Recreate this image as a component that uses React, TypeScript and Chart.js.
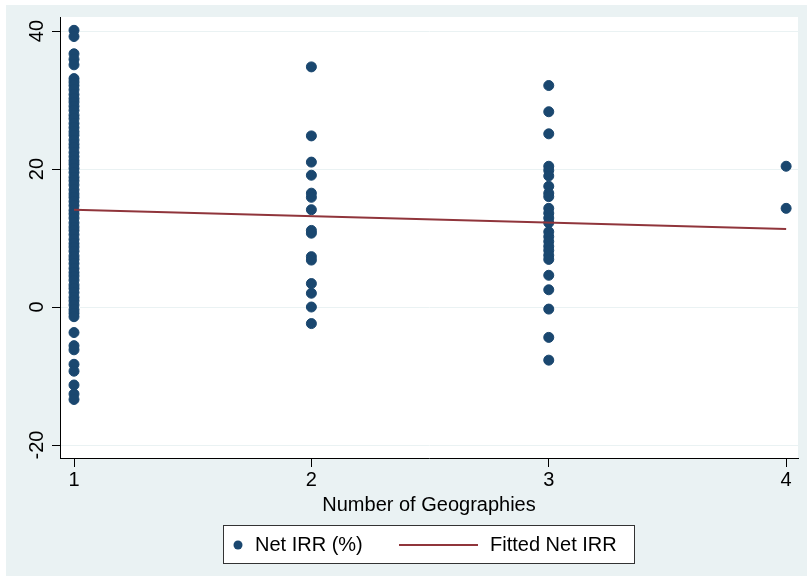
import React, { useEffect, useRef } from "react";
import { Chart, registerables } from "chart.js";

Chart.register(...registerables);

// Number of geographies for each column of points
const geoOne = 1;
const geoTwo = 2;
const geoThree = 3;
const geoFour = 4;

const irrGeo1: number[] = [
  40.1, 39.2, 36.7, 35.9, 35.1,
  33.1, 32.6, 32.1, 31.5, 30.8, 30.2, 29.7, 29.1, 28.5, 27.8, 27.3, 26.6, 26.0,
  25.4, 24.9, 24.2, 23.6, 23.1, 22.4, 21.8, 21.2, 20.7, 20.1, 19.5, 18.8, 18.3,
  17.7, 17.0, 16.4, 15.9, 15.3, 14.7, 14.0, 13.5, 12.9, 12.2, 11.6, 11.1, 10.5,
  9.8, 9.2, 8.7, 8.1, 7.4, 6.9, 6.3, 5.6, 5.0, 4.5, 3.9, 3.2, 2.7, 2.1, 1.4,
  0.9, 0.3, -0.4, -0.9, -1.4,
  -3.7, -5.6, -6.2, -8.3, -9.3, -11.3, -12.6, -13.4,
];
const irrGeo2: number[] = [
  34.8, 24.8, 21.0, 19.1, 16.5, 15.9, 14.1, 11.1, 10.7, 7.3, 6.8, 3.4, 2.0, 0.0, -2.4,
];
const irrGeo3: number[] = [
  32.1, 28.3, 25.1, 20.4, 19.8, 19.0, 17.5, 16.5, 16.0, 14.3, 13.6, 12.9, 12.2,
  10.9, 10.2, 9.5, 8.8, 8.2, 7.5, 6.9, 4.6, 2.5, -0.3, -4.4, -7.7,
];
const irrGeo4: number[] = [20.4, 14.3];

// Fitted line end points
const fitX: number[] = [1, 4];
const fitY: number[] = [14.1, 11.3];

// Axis ticks
const xTicks: number[] = [1, 2, 3, 4];
const yTicks: number[] = [-20, 0, 20, 40];

const xTitle = "Number of Geographies";
const legendScatter = "Net IRR (%)";
const legendFit = "Fitted Net IRR";

const NAVY = "#1A476F";
const MAROON = "#90353B";
const BG = "#EAF2F3";
const FONT = "'Liberation Sans', Arial, sans-serif";

export default function App() {
  const ref = useRef<HTMLCanvasElement | null>(null);

  useEffect(() => {
    if (!ref.current) return;
    const pts = [
      ...irrGeo1.map((y) => ({ x: geoOne, y })),
      ...irrGeo2.map((y) => ({ x: geoTwo, y })),
      ...irrGeo3.map((y) => ({ x: geoThree, y })),
      ...irrGeo4.map((y) => ({ x: geoFour, y })),
    ];
    const fit = fitX.map((x, i) => ({ x, y: fitY[i] }));

    const bgPlugin = {
      id: "stataBg",
      beforeDraw(chart: any) {
        const { ctx, chartArea } = chart;
        ctx.save();
        ctx.fillStyle = "#ffffff";
        ctx.fillRect(0, 0, chart.width, chart.height);
        ctx.fillStyle = BG;
        ctx.fillRect(6, 5, chart.width - 6, chart.height - 5);
        ctx.fillStyle = "#ffffff";
        ctx.fillRect(
          chartArea.left,
          chartArea.top,
          chartArea.right - chartArea.left,
          chartArea.bottom - chartArea.top
        );
        ctx.restore();
      },
      afterDraw(chart: any) {
        const { ctx } = chart;
        const ys = chart.scales.y;
        ctx.save();
        ctx.fillStyle = "#000";
        ctx.font = `20px ${FONT}`;
        ctx.textAlign = "center";
        ctx.textBaseline = "middle";
        for (const v of yTicks) {
          const py = ys.getPixelForValue(v);
          ctx.save();
          ctx.translate(37, py);
          ctx.rotate(-Math.PI / 2);
          ctx.fillText(String(v), 0, 0);
          ctx.restore();
        }
        // legend
        const lx = 223.5, ly = 525.5, lw = 411, lh = 38;
        ctx.fillStyle = "#ffffff";
        ctx.fillRect(lx, ly, lw, lh);
        ctx.strokeStyle = "#333";
        ctx.lineWidth = 1;
        ctx.strokeRect(lx, ly, lw, lh);
        const cy = ly + lh / 2 + 0.5;
        ctx.fillStyle = NAVY;
        ctx.beginPath();
        ctx.arc(238, cy, 4.5, 0, Math.PI * 2);
        ctx.fill();
        ctx.strokeStyle = MAROON;
        ctx.lineWidth = 2;
        ctx.beginPath();
        ctx.moveTo(399, cy);
        ctx.lineTo(478, cy);
        ctx.stroke();
        ctx.fillStyle = "#000";
        ctx.textAlign = "left";
        ctx.fillText(legendScatter, 255, cy);
        ctx.fillText(legendFit, 490, cy);
        ctx.restore();
      },
    };

    const chart = new Chart(ref.current, {
      type: "scatter",
      data: {
        datasets: [
          {
            type: "line",
            label: legendFit,
            data: fit,
            borderColor: MAROON,
            borderWidth: 2,
            pointRadius: 0,
            fill: false,
          } as any,
          {
            type: "scatter",
            label: legendScatter,
            data: pts,
            backgroundColor: NAVY,
            borderColor: NAVY,
            borderWidth: 1,
            pointRadius: 5,
          },
        ],
      },
      options: {
        responsive: false,
        animation: false,
        devicePixelRatio: 1,
        layout: { padding: { left: 0, top: 17, right: 9, bottom: 59 } },
        plugins: {
          legend: { display: false },
          tooltip: { enabled: false },
        },
        scales: {
          x: {
            type: "linear",
            min: 0.941,
            max: 4.05,
            afterBuildTicks: (s: any) => {
              s.ticks = xTicks.map((v) => ({ value: v }));
            },
            grid: {
              display: true,
              drawOnChartArea: false,
              drawTicks: true,
              tickLength: 9,
              tickColor: "#000",
            },
            border: { display: true, color: "#000", width: 1 },
            ticks: {
              color: "#000",
              font: { family: FONT, size: 20 },
              padding: 1,
              maxRotation: 0,
              callback: (v: any) => String(v),
            },
            title: {
              display: true,
              text: xTitle,
              color: "#000",
              font: { family: FONT, size: 20 },
              padding: { top: 0, bottom: 0 },
            },
          },
          y: {
            type: "linear",
            min: -21.88,
            max: 42.03,
            afterBuildTicks: (s: any) => {
              s.ticks = yTicks.map((v) => ({ value: v }));
            },
            afterFit: (s: any) => {
              s.width = 60;
            },
            grid: {
              display: true,
              drawOnChartArea: true,
              color: BG,
              lineWidth: 1,
              drawTicks: true,
              tickLength: 8,
              tickColor: "#000",
            },
            border: { display: true, color: "#000", width: 1 },
            ticks: { display: false },
          },
        },
      },
      plugins: [bgPlugin],
    });
    return () => chart.destroy();
  }, []);

  return (
    <div style={{ position: "fixed", left: 0, top: 0, width: 807, height: 576 }}>
      <canvas ref={ref} width={807} height={576} style={{ display: "block" }} />
    </div>
  );
}
